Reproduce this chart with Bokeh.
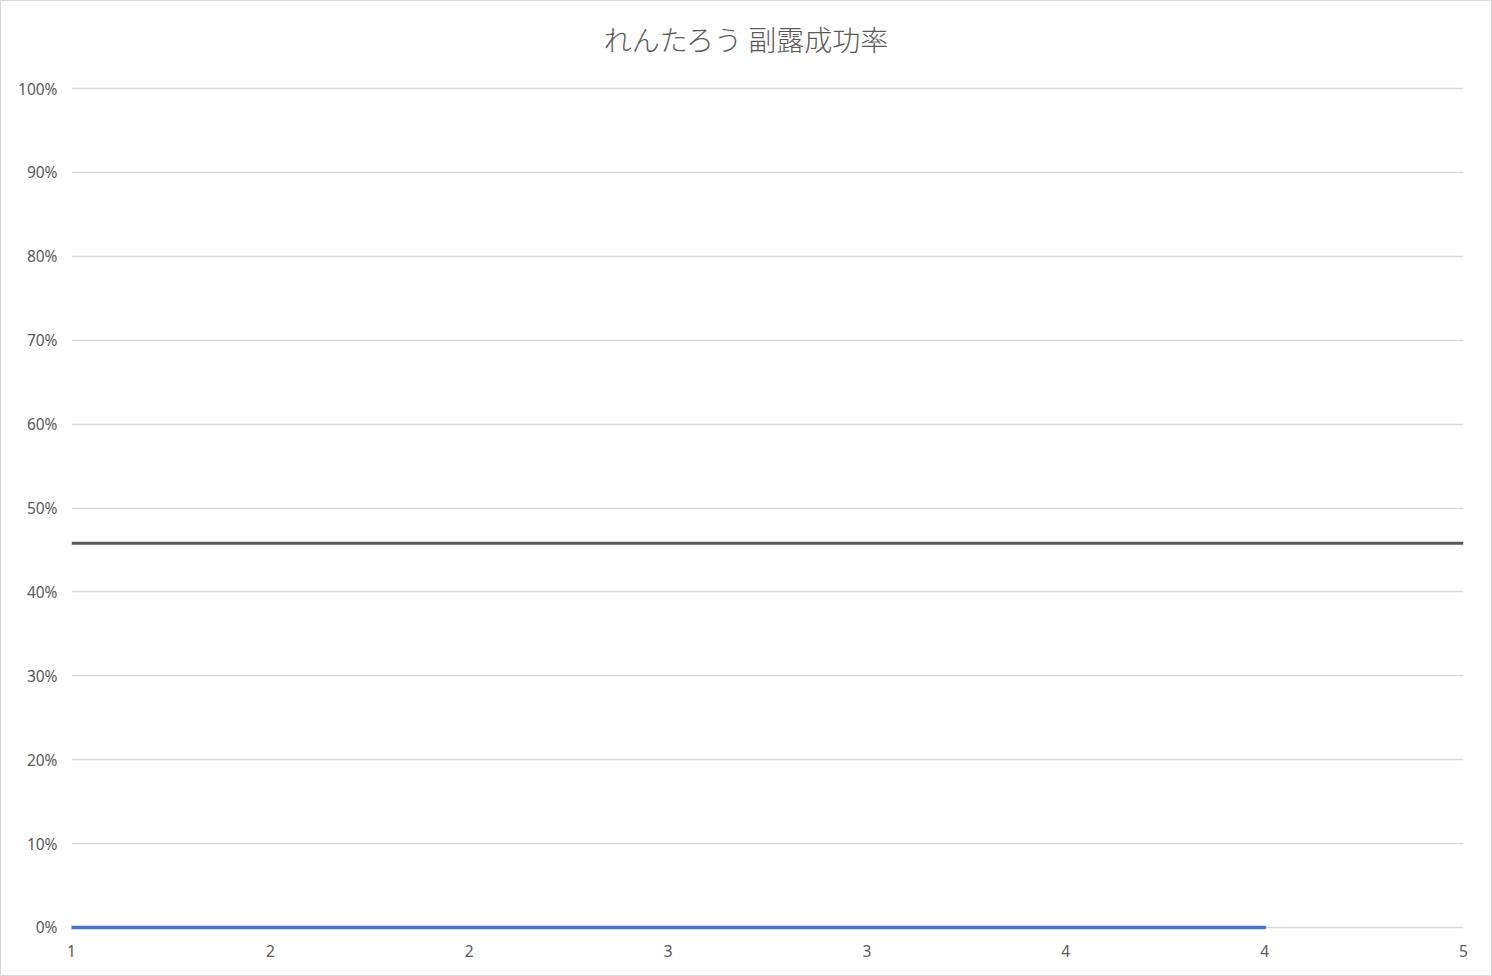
from bokeh.plotting import figure
from bokeh.models import FixedTicker, Range1d, NumeralTickFormatter, Div
from bokeh.layouts import column
from bokeh.embed import file_html
from bokeh.resources import INLINE

title_text = "れんたろう 副露成功率"
x_ticks = [1.0, 1 + 4/7, 1 + 8/7, 1 + 12/7, 1 + 16/7, 1 + 20/7, 1 + 24/7, 5.0]
x_tick_labels = ["1", "2", "2", "3", "3", "4", "4", "5"]
y_ticks = [0.0, 0.1, 0.2, 0.3, 0.4, 0.5, 0.6, 0.7, 0.8, 0.9, 1.0]

series_x = [1.0, 1 + 4/7, 1 + 8/7, 1 + 12/7, 1 + 16/7, 1 + 20/7, 1 + 24/7]
series_y = [0.0, 0.0, 0.0, 0.0, 0.0, 0.0, 0.0]
avg_x = [1.0, 5.0]
avg_y = [0.458, 0.458]

W, H = 1490, 974
TITLE_H = 76
BL, BR, BT, BB = 70, 28, 82 - TITLE_H, 43

title = Div(text=title_text, width=W, height=TITLE_H, margin=0,
            styles={"font-family": "'Noto Sans CJK JP Light', 'Noto Sans CJK JP'",
                    "font-size": "28px", "color": "#595959",
                    "text-align": "center", "line-height": f"{TITLE_H}px",
                    "background-color": "white"})

# pad y range slightly so lines at the edges are not clipped by the frame
ypad = 0.006
p = figure(width=W, height=H - TITLE_H, output_backend="svg", toolbar_location=None,
           x_range=Range1d(1, 5), y_range=Range1d(-ypad, 1 + ypad))
p.margin = 0
p.min_border_left = BL
p.min_border_right = BR
p.min_border_top = BT
p.min_border_bottom = BB
p.outline_line_color = None
p.background_fill_color = "white"
p.border_fill_color = "white"

p.xgrid.grid_line_color = None
p.ygrid.grid_line_color = "#d9d9d9"
p.ygrid.grid_line_width = 1.5
p.ygrid.ticker = FixedTicker(ticks=y_ticks)

p.yaxis.ticker = FixedTicker(ticks=y_ticks)
p.yaxis.formatter = NumeralTickFormatter(format="0%")
p.yaxis.axis_line_color = None
p.yaxis.major_tick_line_color = None
p.yaxis.minor_tick_line_color = None
p.yaxis.major_tick_out = 0
p.yaxis.major_label_standoff = 14

p.xaxis.ticker = FixedTicker(ticks=x_ticks)
p.xaxis.major_label_overrides = {t: l for t, l in zip(x_ticks, x_tick_labels)}
p.xaxis.axis_line_color = None
p.xaxis.major_tick_line_color = None
p.xaxis.minor_tick_line_color = None
p.xaxis.major_tick_out = 0
p.xaxis.major_label_standoff = 12

for ax in (p.xaxis, p.yaxis):
    ax.major_label_text_font = "Noto Sans"
    ax.major_label_text_font_size = "15.5px"
    ax.major_label_text_color = "#595959"

p.line(avg_x, avg_y, line_color="#595959", line_width=3)
p.line(series_x, series_y, line_color="#4472c4", line_width=3.5, line_cap="round")

layout = column(title, p, spacing=0)
layout.styles = {"border": "1px solid #d9d9d9", "background-color": "white"}

open("out.html", "w").write(file_html(layout, INLINE))
